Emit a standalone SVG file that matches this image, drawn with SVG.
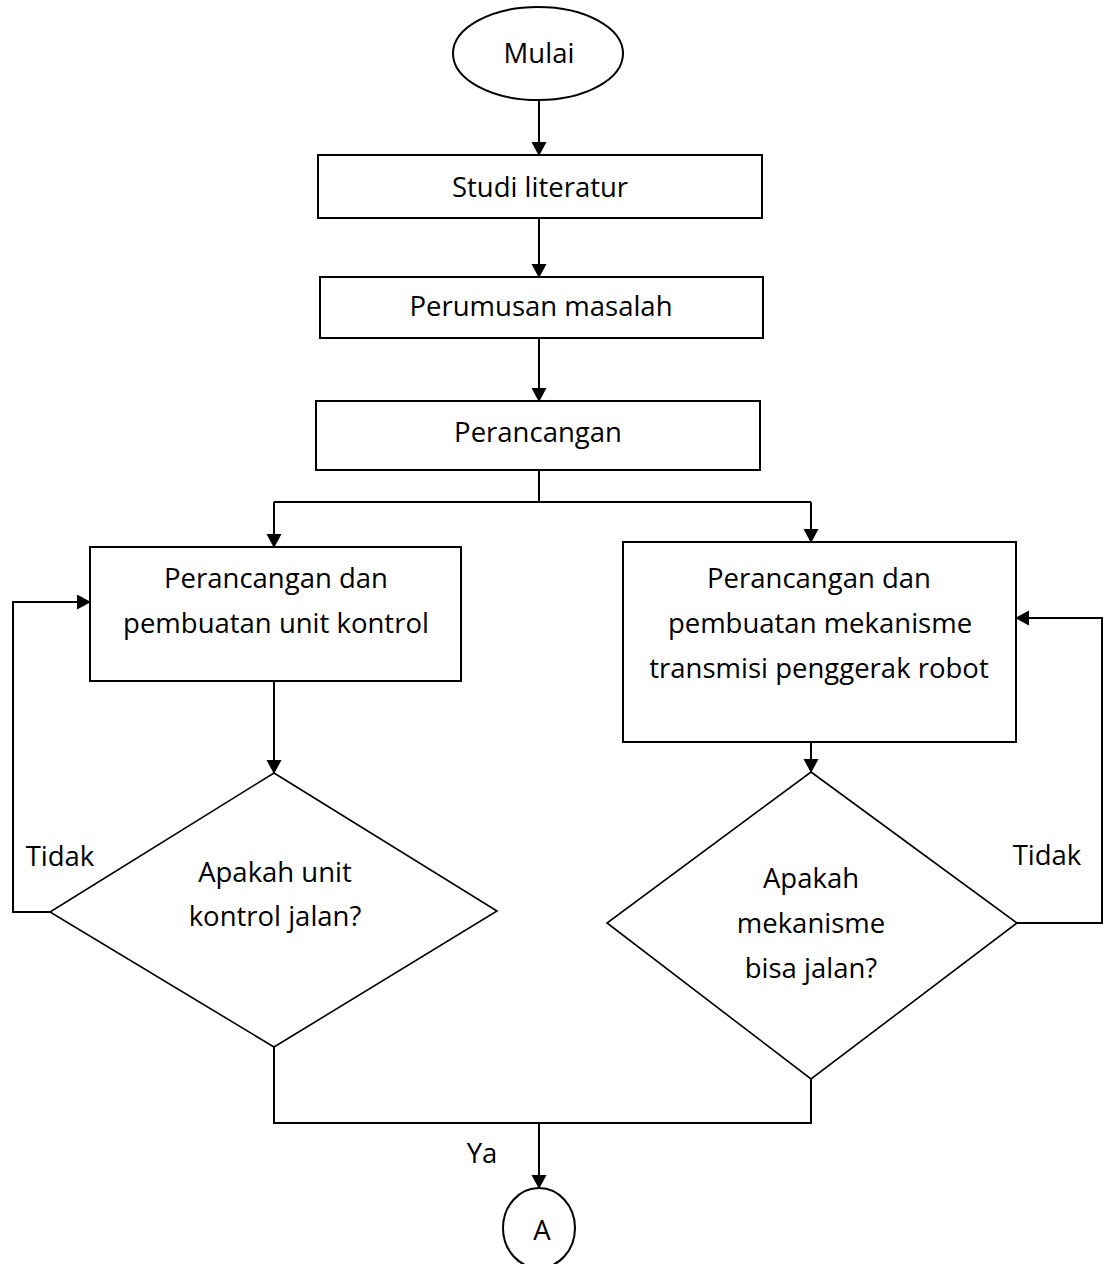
<svg xmlns="http://www.w3.org/2000/svg" width="1103" height="1264" viewBox="0 0 1103 1264">
<style>
.shape{fill:#fff;stroke:#000;stroke-width:2}
.dia{fill:#fff;stroke:#000;stroke-width:1.6}
.conn{fill:none;stroke:#000;stroke-width:2}
text{font-family:"Open Sans","Noto Sans",sans-serif;font-size:27.5px;fill:#000;text-anchor:middle}
</style>
<defs>
<marker id="arr" markerWidth="16" markerHeight="16" refX="13" refY="7.5" orient="auto" markerUnits="userSpaceOnUse">
<path d="M0,0 L14,7.5 L0,15 Z" fill="#000"/>
</marker>
</defs>
<rect width="1103" height="1264" fill="#fff"/>
<g id="connectors">
<path class="conn" d="M539,100 V155" marker-end="url(#arr)"/>
<path class="conn" d="M539,218 V277" marker-end="url(#arr)"/>
<path class="conn" d="M539,338 V401" marker-end="url(#arr)"/>
<path class="conn" d="M539,470 V502"/>
<path class="conn" d="M274,502 H811"/>
<path class="conn" d="M274,502 V547" marker-end="url(#arr)"/>
<path class="conn" d="M811,502 V542" marker-end="url(#arr)"/>
<path class="conn" d="M274,681 V773" marker-end="url(#arr)"/>
<path class="conn" d="M811,742 V772" marker-end="url(#arr)"/>
<path class="conn" d="M50,912 H13 V602 H90" marker-end="url(#arr)"/>
<path class="conn" d="M1017,923 H1102 V618 H1016" marker-end="url(#arr)"/>
<path class="conn" d="M274,1047 V1123 H811 V1079"/>
<path class="conn" d="M539,1123 V1188" marker-end="url(#arr)"/>
<text x="60" y="866">Tidak</text>
<text x="1047" y="865">Tidak</text>
<text x="482" y="1163">Ya</text>
</g>
<g id="mulai">
<ellipse class="shape" cx="538" cy="53.5" rx="85" ry="46.5"/>
<text x="539" y="63">Mulai</text>
</g>
<g id="studi">
<rect class="shape" x="318" y="155" width="444" height="63"/>
<text x="540" y="197">Studi literatur</text>
</g>
<g id="perumusan">
<rect class="shape" x="320" y="277" width="443" height="61"/>
<text x="541" y="316">Perumusan masalah</text>
</g>
<g id="perancangan">
<rect class="shape" x="316" y="401" width="444" height="69"/>
<text x="538" y="442">Perancangan</text>
</g>
<g id="unit-kontrol">
<rect class="shape" x="90" y="547" width="371" height="134"/>
<text x="276" y="588">Perancangan dan</text>
<text x="276" y="633">pembuatan unit kontrol</text>
</g>
<g id="mekanisme">
<rect class="shape" x="623" y="542" width="393" height="200"/>
<text x="819" y="588">Perancangan dan</text>
<text x="820" y="633">pembuatan mekanisme</text>
<text x="819" y="678">transmisi penggerak robot</text>
</g>
<g id="cek-kontrol">
<polygon class="dia" points="274,773 497,911 274,1047 50,912"/>
<text x="275" y="882">Apakah unit</text>
<text x="275" y="926">kontrol jalan?</text>
</g>
<g id="cek-mekanisme">
<polygon class="dia" points="811,772 1017,923 811,1079 607,923"/>
<text x="811" y="888">Apakah</text>
<text x="811" y="933">mekanisme</text>
<text x="811" y="978">bisa jalan?</text>
</g>
<g id="konektor-a">
<ellipse class="shape" cx="539" cy="1228" rx="36" ry="40"/>
<text x="542" y="1240">A</text>
</g>
</svg>
